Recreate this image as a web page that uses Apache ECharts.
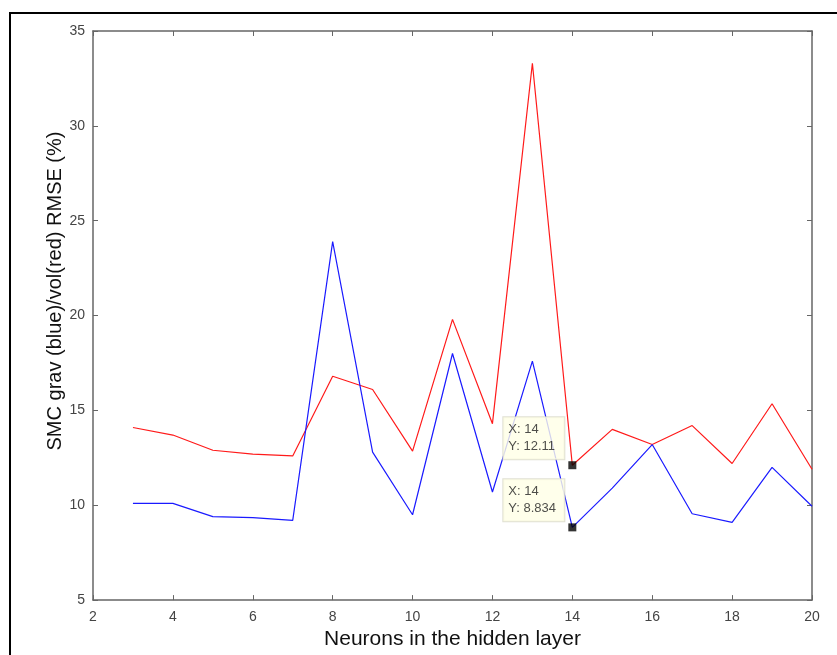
<!DOCTYPE html>
<html>
<head>
<meta charset="utf-8">
<script src="https://cdn.jsdelivr.net/npm/echarts@6/dist/echarts.min.js"></script>
<style>
  html, body { margin: 0; padding: 0; background: #fff; }
  #chart { width: 837px; height: 655px; }
</style>
</head>
<body>
<div id="chart"></div>
<script>
// neurons in the hidden layer
var neurons = [3, 4, 5, 6, 7, 8, 9, 10, 11, 12, 13, 14, 15, 16, 17, 18, 19, 20];
// SMC grav RMSE (blue)
var gravRmse = [10.1, 10.1, 9.4, 9.35, 9.2, 23.9, 12.8, 9.5, 18.0, 10.7, 17.6, 8.834, 10.9, 13.2, 9.55, 9.1, 12.0, 9.95];
// SMC vol RMSE (red)
var volRmse = [14.1, 13.7, 12.9, 12.7, 12.6, 16.8, 16.1, 12.85, 19.8, 14.3, 33.3, 12.11, 14.0, 13.2, 14.2, 12.2, 15.35, 11.9];
// data tips
var tipX = [14, 14];
var tipY = [12.11, 8.834];

var chart = echarts.init(document.getElementById('chart'));

var pairs = function(xs, ys) {
  return xs.map(function(x, i) { return [x, ys[i]]; });
};

var fontFam = '"Liberation Sans", Arial, sans-serif';
var axisLine = { show: true, lineStyle: { color: '#666', width: 1.5 } };
var tick = { show: true, inside: true, length: 5, lineStyle: { color: '#666' } };

chart.setOption({
  animation: false,
  backgroundColor: '#fff',
  textStyle: { fontFamily: fontFam },
  grid: { left: 93, right: 25, top: 31, bottom: 54 },
  graphic: [{
    type: 'rect',
    shape: { x: 10, y: 13, width: 840, height: 660 },
    style: { fill: null, stroke: '#000', lineWidth: 2 },
    silent: true
  }, {
    // y axis title
    type: 'text',
    x: 55, y: 291,
    rotation: Math.PI / 2,
    style: {
      text: 'SMC grav (blue)/vol(red) RMSE (%)',
      fontSize: 20, fontFamily: fontFam, fill: '#111',
      align: 'center', verticalAlign: 'middle'
    },
    silent: true
  }],
  xAxis: [{
    type: 'value', min: 2, max: 20, interval: 2,
    axisLine: axisLine, axisTick: tick, splitLine: { show: false },
    axisLabel: { color: '#444', fontSize: 14, margin: 10 },
    name: 'Neurons in the hidden layer',
    nameLocation: 'middle', nameGap: 24,
    nameTextStyle: { color: '#111', fontSize: 21 }
  }, {
    type: 'value', min: 2, max: 20, interval: 2, position: 'top',
    axisLine: axisLine, axisTick: tick, splitLine: { show: false },
    axisLabel: { show: false }
  }],
  yAxis: [{
    type: 'value', min: 5, max: 35, interval: 5,
    axisLine: axisLine, axisTick: tick, splitLine: { show: false },
    axisLabel: { color: '#444', fontSize: 14, margin: 8 }
  }, {
    type: 'value', min: 5, max: 35, interval: 5, position: 'right',
    axisLine: axisLine, axisTick: tick, splitLine: { show: false },
    axisLabel: { show: false }
  }],
  series: [{
    name: 'vol',
    type: 'line',
    data: pairs(neurons, volRmse),
    showSymbol: false,
    lineStyle: { color: '#ff1a1a', width: 1.2 },
    itemStyle: { color: '#ff1a1a' },
    z: 2
  }, {
    name: 'grav',
    type: 'line',
    data: pairs(neurons, gravRmse),
    showSymbol: false,
    lineStyle: { color: '#1a1aff', width: 1.2 },
    itemStyle: { color: '#1a1aff' },
    z: 3
  }, {
    name: 'tips',
    type: 'scatter',
    data: pairs(tipX, tipY),
    symbol: 'rect',
    symbolSize: 8,
    itemStyle: { color: '#000' },
    z: 5,
    label: {
      show: true,
      position: [-65, -2],
      align: 'left',
      verticalAlign: 'bottom',
      width: 46,
      formatter: function(p) {
        return 'X: ' + p.value[0] + '\nY: ' + p.value[1];
      },
      color: '#222',
      fontSize: 13,
      lineHeight: 17,
      backgroundColor: '#ffffe6',
      borderColor: '#d8d8c8',
      borderWidth: 1,
      padding: [4, 10, 4, 5]
    }
  }]
});
</script>
</body>
</html>
